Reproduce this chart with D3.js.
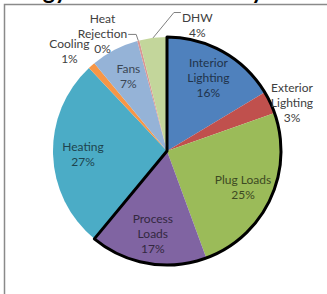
<!DOCTYPE html>
<html>
<head>
<meta charset="utf-8">
<script src="https://cdn.jsdelivr.net/npm/d3@7"></script>
<style>
  body { margin: 0; background: #fff; }
  svg { display: block; }
</style>
</head>
<body>
<div id="chart"></div>
<script>
"use strict"

// end uses, clockwise from 12 o'clock
let categories = ["Interior Lighting", "Exterior Lighting", "Plug Loads", "Process Loads",
                  "Heating", "Cooling", "Fans", "Heat Rejection", "DHW"];
let values = [16.4, 3.2, 24.8, 16.6, 27.0, 1.0, 6.8, 0.3, 3.9];
let percentLabels = ["16%", "3%", "25%", "17%", "27%", "1%", "7%", "0%", "4%"];
let nameLines = [["Interior", "Lighting"], ["Exterior", "Lighting"], ["Plug Loads"], ["Process", "Loads"],
                 ["Heating"], ["Cooling"], ["Fans"], ["Heat", "Rejection"], ["DHW"]];
let outlinedCount = 4; // first four slices get the heavy black outline

let colors = ["#4F81BD", "#C0504D", "#9BBB59", "#8064A2", "#4BACC6",
              "#F79646", "#95B3D7", "#D99694", "#C3D69B"];

let width = 327, height = 294;
let cx = 167, cy = 151, radius = 114;

let drawing = d3.select("#chart")
    .append("svg")
    .attr("width", width)
    .attr("height", height);

// cropped title, only the descenders show
drawing.append("text")
    .attr("x", -4)
    .attr("y", -1)
    .attr("font-family", "Lato, 'Open Sans', sans-serif")
    .attr("font-weight", "bold")
    .attr("font-size", 23)
    .attr("fill", "#000")
    .text("Energy Use Breakdown by End Use");

// chart area border (left and top edges only are visible)
drawing.append("path")
    .attr("d", "M4.5," + height + "V4.5H" + width)
    .attr("fill", "none")
    .attr("stroke", "#8a8a8a")
    .attr("stroke-width", 1.5);

let pie = d3.pie().sort(null).value(d => d.value);
let rows = categories.map((c, i) => ({ name: c, value: values[i], i: i }));
let arcs = pie(rows);

let arc = d3.arc().innerRadius(0).outerRadius(radius);
let insideArc = d3.arc().innerRadius(84).outerRadius(84);
let edgeArc = d3.arc().innerRadius(radius).outerRadius(radius);
let outerArc = d3.arc().innerRadius(137).outerRadius(137);

let g = drawing.append("g").attr("transform", "translate(" + cx + "," + cy + ")");

g.selectAll(".slice")
    .data(arcs)
    .enter()
    .append("path")
    .attr("class", "slice")
    .attr("d", arc)
    .attr("fill", d => colors[d.data.i]);

// heavy outline round the first four slices
g.append("path")
    .attr("d", arc({ startAngle: arcs[0].startAngle, endAngle: arcs[outlinedCount - 1].endAngle }))
    .attr("fill", "none")
    .attr("stroke", "#000")
    .attr("stroke-width", 3)
    .attr("stroke-linejoin", "round");

// small slices get their labels outside; nudge them like Excel did
let outside = { "Exterior Lighting": [1, 10], "Cooling": [-7, 3], "Heat Rejection": [-30, 15], "DHW": [47, 10] };
let leaderLines = { "Heat Rejection": "right", "DHW": "left" };

let lineH = 15;

arcs.forEach(d => {
    let name = d.data.name;
    let lines = nameLines[d.data.i].concat([percentLabels[d.data.i]]);
    let pos, fill;
    if (outside[name]) {
        let p = outerArc.centroid(d);
        pos = [p[0] + outside[name][0], p[1] + outside[name][1]];
        fill = "#404040";
    } else {
        pos = insideArc.centroid(d);
        fill = d3.color(colors[d.data.i]).darker(2.6).formatHex();
    }

    let t = g.append("text")
        .attr("text-anchor", "middle")
        .attr("font-family", "Lato, 'Open Sans', sans-serif")
        .attr("font-size", 12)
        .attr("fill", fill);

    lines.forEach((s, k) => {
        t.append("tspan")
            .attr("x", pos[0])
            .attr("y", pos[1] + (k - (lines.length - 1) / 2) * lineH)
            .attr("dominant-baseline", "central")
            .text(s);
    });

    // leader line from label to slice edge
    if (leaderLines[name]) {
        let bb = t.node().getBBox();
        let tip = edgeArc.centroid(d);
        let startX, startY, bendX;
        if (leaderLines[name] == "right") {
            startX = bb.x + bb.width + 1;
            startY = pos[1] + 1;
            bendX = startX + 8;
        } else {
            startX = bb.x - 1;
            startY = pos[1] - lineH / 2 - 5;
            bendX = startX - 7;
        }
        g.append("polyline")
            .attr("points", [[startX, startY], [bendX, startY], tip].map(p => p.join(",")).join(" "))
            .attr("fill", "none")
            .attr("stroke", "#7f7f7f")
            .attr("stroke-width", 1);
    }
});
</script>
</body>
</html>
